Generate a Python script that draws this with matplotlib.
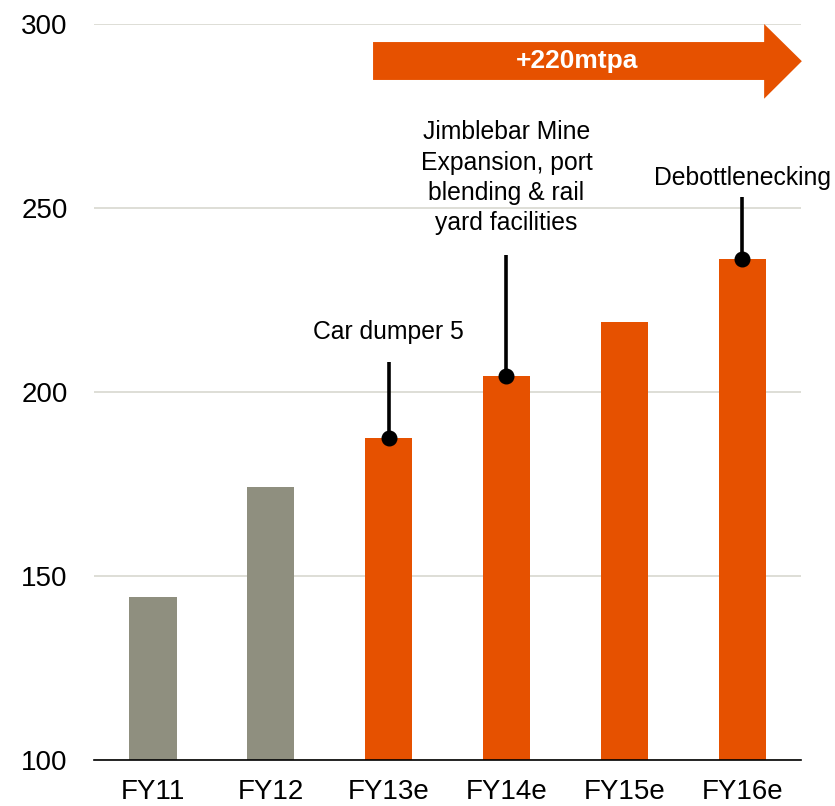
import matplotlib
matplotlib.use('Agg')
import numpy as np
import matplotlib.pyplot as plt
from matplotlib.patches import Polygon

plt.rcParams['font.family'] = ['Liberation Sans', 'DejaVu Sans']

# data
years = ['FY11', 'FY12', 'FY13e', 'FY14e', 'FY15e', 'FY16e']
capacity = [144.3, 174.2, 187.6, 204.3, 218.9, 236.1]
is_forecast = [False, False, True, True, True, True]

# annotations: bar index, label, top of the leader line, label y
note_idx = [2, 3, 5]
note_text = ['Car dumper 5',
             'Jimblebar Mine\nExpansion, port\nblending & rail\nyard facilities',
             'Debottlenecking']
note_line_top = [208.2, 237.2, 253.1]
note_text_y = [216.3, 258.2, 258.2]

grey = '#8F8F7F'
orange = '#E65100'

fig = plt.figure(figsize=(8.35, 8.06), dpi=100)
ax = fig.add_axes([0.1126, 0.0571, 0.8467, 0.9131])

x = np.arange(len(years))
colors = [orange if f else grey for f in is_forecast]
ax.bar(x, np.array(capacity) - 100, bottom=100, width=0.4, color=colors, zorder=2)

ax.set_xlim(-0.5, 5.5)
ax.set_ylim(100, 300)
ax.set_yticks([100, 150, 200, 250, 300])
ax.set_xticks(x)
ax.set_xticklabels(years)
ax.grid(axis='y', color='#D8D8CF', linewidth=1.2, zorder=0)
ax.set_axisbelow(True)

for s in ['left', 'right', 'top']:
	ax.spines[s].set_visible(False)
ax.spines['bottom'].set_color('black')
ax.spines['bottom'].set_linewidth(1.2)
ax.spines['bottom'].set_zorder(3)

ax.tick_params(axis='y', length=0, pad=19, labelsize=20)
ax.tick_params(axis='x', length=0, pad=14, labelsize=20)

# leader lines with dots on the bar tops
for i, txt, top, ty in zip(note_idx, note_text, note_line_top, note_text_y):
	ax.plot([x[i], x[i]], [capacity[i], top], color='black', lw=2.6, zorder=4,
	        solid_capstyle='butt')
	ax.plot([x[i]], [capacity[i]], 'o', color='black', ms=10.5, zorder=5)
	ax.text(x[i], ty, txt, ha='center', va='center', fontsize=17.8,
	        linespacing=1.33, zorder=5)

# big arrow on top
arrow = Polygon([[1.868, 295.1], [5.187, 295.1], [5.187, 300.0], [5.507, 289.9],
                 [5.187, 279.7], [5.187, 284.8], [1.868, 284.8]],
                closed=True, facecolor=orange, edgecolor='none', clip_on=False, zorder=5)
ax.add_patch(arrow)
ax.text(3.6, 289.9, '+220mtpa', ha='center', va='center', color='white',
        fontsize=19, fontweight='bold', zorder=6)

fig.savefig('out.png', dpi=100)
